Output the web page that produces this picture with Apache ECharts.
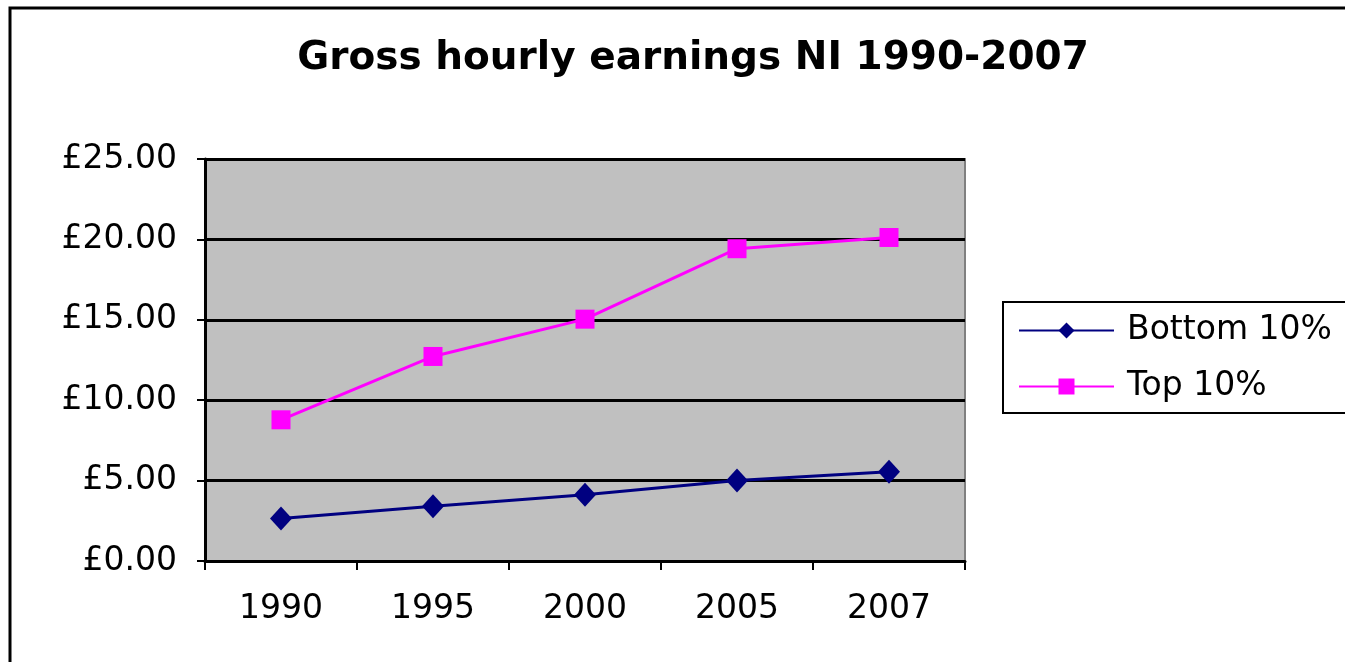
<!DOCTYPE html>
<html>
<head>
<meta charset="utf-8">
<script src="https://cdn.jsdelivr.net/npm/echarts@6/dist/echarts.min.js"></script>
<style>
  html, body { margin: 0; padding: 0; background: #fff; }
  #chart { width: 1345px; height: 662px; }
</style>
</head>
<body>
<div id="chart"></div>
<script>
var years = ['1990', '1995', '2000', '2005', '2007'];
var bottom10 = [2.65, 3.4, 4.12, 5.0, 5.55];
var top10 = [8.78, 12.72, 15.04, 19.42, 20.12];

var chart = echarts.init(document.getElementById('chart'));
var font = 'DejaVu Sans, sans-serif';

var option = {
  backgroundColor: '#fff',
  animation: false,
  title: {
    text: 'Gross hourly earnings NI 1990-2007',
    left: 688,
    textAlign: 'center',
    top: 34,
    textStyle: { fontFamily: font, fontWeight: 'bold', fontSize: 39, color: '#000' }
  },
  legend: {
    orient: 'vertical',
    left: 1003,
    top: 302,
    padding: [12, 40, 10, 15],
    itemGap: 23,
    itemWidth: 95,
    itemHeight: 20,
    borderColor: '#000',
    borderWidth: 2,
    textStyle: { fontFamily: font, fontSize: 33, color: '#000', padding: [0, 0, 0, 8] },
    data: ['Bottom 10%', 'Top 10%']
  },
  graphic: [{
    type: 'rect',
    shape: { x: 10, y: 8, width: 1400, height: 700 },
    style: { fill: 'none', stroke: '#000', lineWidth: 3 },
    silent: true
  }],
  grid: {
    left: 205,
    right: 380,
    top: 159,
    bottom: 101,
    show: true,
    backgroundColor: '#C0C0C0',
    borderColor: '#808080',
    borderWidth: 2
  },
  xAxis: {
    type: 'category',
    data: years,
    boundaryGap: true,
    axisLine: { lineStyle: { color: '#000', width: 3 } },
    axisTick: { show: true, length: 9, lineStyle: { color: '#000', width: 2 } },
    axisLabel: { margin: 32, fontFamily: font, fontSize: 33, color: '#000' }
  },
  yAxis: {
    type: 'value',
    min: 0,
    max: 25,
    interval: 5,
    axisLine: { show: true, lineStyle: { color: '#000', width: 3 } },
    axisTick: { show: true, length: 8, lineStyle: { color: '#000', width: 2 } },
    splitLine: { lineStyle: { color: '#000', width: 3 } },
    axisLabel: {
      margin: 28,
      fontFamily: font,
      fontSize: 33,
      color: '#000',
      formatter: function (v) { return '£' + v.toFixed(2); }
    }
  },
  series: [
    {
      name: 'Bottom 10%',
      type: 'line',
      data: bottom10,
      symbol: 'diamond',
      symbolSize: [22, 24],
      lineStyle: { color: '#000080', width: 3 },
      itemStyle: { color: '#000080' }
    },
    {
      name: 'Top 10%',
      type: 'line',
      data: top10,
      symbol: 'rect',
      symbolSize: 19,
      lineStyle: { color: '#FF00FF', width: 3 },
      itemStyle: { color: '#FF00FF' }
    }
  ]
};

chart.setOption(option);
</script>
</body>
</html>
